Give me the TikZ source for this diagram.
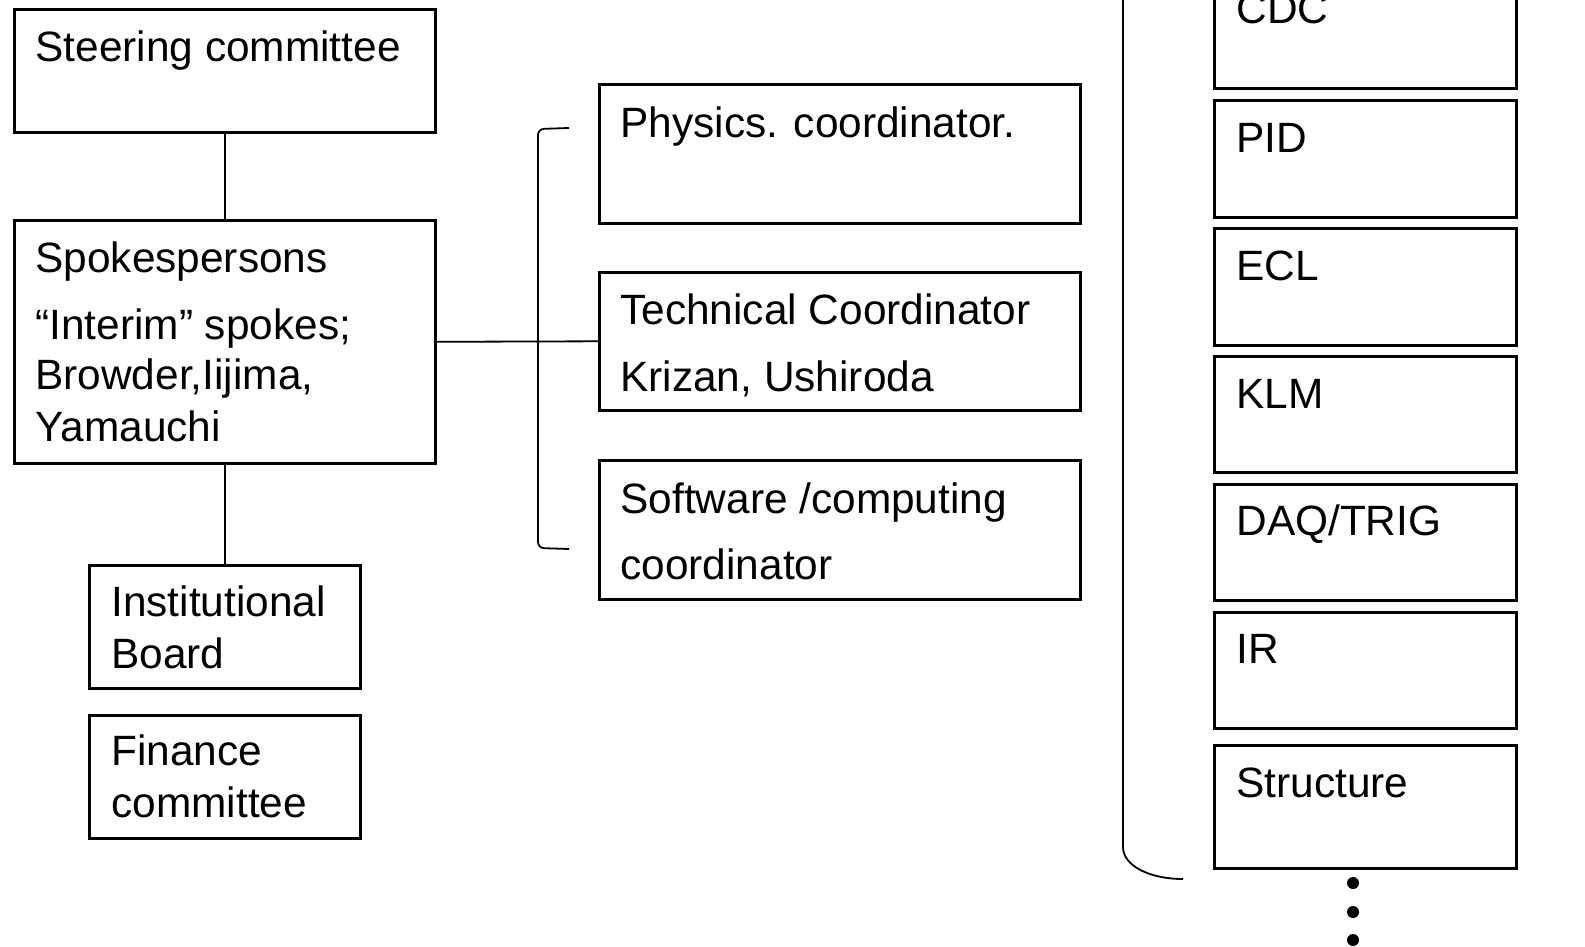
\documentclass[tikz,border=0pt]{standalone}
\usepackage{fontspec}
\setmainfont{Liberation Sans}
\begin{document}
\begin{tikzpicture}[x=0.5pt,y=-0.5pt,
  box/.style={draw, line width=1.3pt, rectangle, inner sep=0pt, anchor=north west},
  txt/.style={anchor=base west, inner sep=0pt, font=\fontsize{21.2}{25}\selectfont},
  conn/.style={line width=0.9pt},
  dotnode/.style={circle, fill, inner sep=0pt, minimum size=6pt}]
\clip (0,0) rectangle (1585,947);
\fill[white] (0,0) rectangle (1585,947);

% left column
\node[box, minimum width=210.5pt, minimum height=61.5pt] (steer) at (13,8) {};
\node[txt] (steert) at (35,62) {Steering committee};

\node[box, minimum width=210.5pt, minimum height=121.5pt] (spokes) at (13,219) {};
\node[txt] (sp1) at (35,272) {Spokespersons};
\node[txt] (sp2) at (35,339) {“Interim” spokes;};
\node[txt] (sp3) at (35,389) {Browder,Iijima,};
\node[txt] (sp4) at (35,441) {Yamauchi};

\node[box, minimum width=135.5pt, minimum height=61.5pt] (ib) at (88,564) {};
\node[txt] (ib1) at (111,616) {Institutional};
\node[txt] (ib2) at (111,668) {Board};

\node[box, minimum width=135.5pt, minimum height=61.5pt] (fc) at (88,714) {};
\node[txt] (fc1) at (111,765) {Finance};
\node[txt] (fc2) at (111,817) {committee};

% middle column
\node[box, minimum width=240.5pt, minimum height=69.5pt] (phys) at (598,83) {};
\node[txt] (phys1) at (620,138) {Physics. coordinator.};

\node[box, minimum width=240.5pt, minimum height=69pt] (tech) at (598,271) {};
\node[txt] (tech1) at (620,324) {Technical Coordinator};
\node[txt] (tech2) at (620,391) {Krizan, Ushiroda};

\node[box, minimum width=240.5pt, minimum height=69.5pt] (soft) at (598,459) {};
\node[txt] (soft1) at (620,513) {Software /computing};
\node[txt] (soft2) at (620,579) {coordinator};

% right column
\node[box, minimum width=151pt, minimum height=58.5pt] (cdc) at (1213,-30) {};
\node[txt] (cdct) at (1236,24) {CDC};
\node[box, minimum width=151pt, minimum height=58.5pt] (pid) at (1213,99) {};
\node[txt] (pidt) at (1236,153) {PID};
\node[box, minimum width=151pt, minimum height=58.5pt] (ecl) at (1213,227) {};
\node[txt] (eclt) at (1236,280) {ECL};
\node[box, minimum width=151pt, minimum height=58pt] (klm) at (1213,355) {};
\node[txt] (klmt) at (1236,408) {KLM};
\node[box, minimum width=151pt, minimum height=58pt] (daq) at (1213,483) {};
\node[txt] (daqt) at (1236,535) {DAQ/TRIG};
\node[box, minimum width=151pt, minimum height=58pt] (ir) at (1213,611) {};
\node[txt] (irt) at (1236,663) {IR};
\node[box, minimum width=151pt, minimum height=61.5pt] (struct) at (1213,744) {};
\node[txt] (structt) at (1236,797) {Structure};

\node[dotnode] (d1) at (1353,883) {};
\node[dotnode] (d2) at (1353,912) {};
\node[dotnode] (d3) at (1353,940) {};

% connectors
\draw[conn] (steer.south) -- (spokes.north);
\draw[conn] (spokes.south) -- (ib.north);
\draw[conn] (spokes.east) -- (tech.west);

\coordinate (bt) at (569,128);
\coordinate (bb) at (569,549);
\draw[conn, rounded corners=3pt] (bt) -- (538,129) -- (538,548) -- (bb);

\coordinate (rtop) at (1123,-10);
\coordinate (rb) at (1183,879);
\draw[conn] (rtop) -- (1123,847) .. controls (1123,866) and (1150,879) .. (rb);
\end{tikzpicture}
\end{document}
